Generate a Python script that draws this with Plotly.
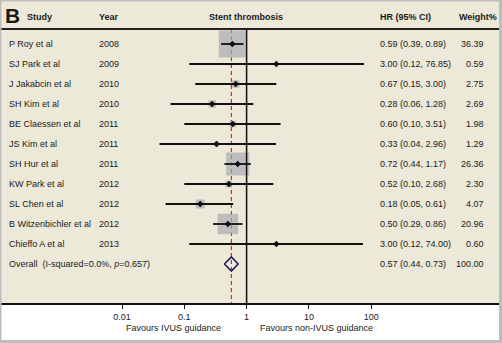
import plotly.graph_objects as go

# ---- data ----
studies = ["P Roy et al", "SJ Park et al", "J Jakabcin et al", "SH Kim et al",
           "BE Claessen et al", "JS Kim et al", "SH Hur et al", "KW Park et al",
           "SL Chen et al", "B Witzenbichler et al", "Chieffo A et al"]
years = [2008, 2009, 2010, 2010, 2011, 2011, 2011, 2012, 2012, 2012, 2013]
hr = [0.59, 3.00, 0.67, 0.28, 0.60, 0.33, 0.72, 0.52, 0.18, 0.50, 3.00]
ci_low = [0.39, 0.12, 0.15, 0.06, 0.10, 0.04, 0.44, 0.10, 0.05, 0.29, 0.12]
ci_high = [0.89, 76.85, 3.00, 1.28, 3.51, 2.96, 1.17, 2.68, 0.61, 0.86, 74.00]
weights = [36.39, 0.59, 2.75, 2.69, 1.98, 1.29, 26.36, 2.30, 4.07, 20.96, 0.60]

overall_label = "Overall  (I-squared=0.0%, <i>p</i>=0.657)"
overall_hr, overall_low, overall_high, overall_weight = 0.57, 0.44, 0.73, 100.00

tick_vals = [0.01, 0.1, 1, 10, 100]
tick_text = ["0.01", "0.1", "1", "10", "100"]

# ---- geometry helpers ----
W, H = 502, 343
MB = 40                      # white strip under the panel holds the axis labels
PH = H - MB                  # panel height in px
ROW0, ROWH = 44, 20          # first row centre and row pitch (px)


def px(x):
    return x / W


def py(y):
    return (PH - y) / PH


def row_of(y):
    return (y - ROW0) / ROWH


n = len(studies)
rows = list(range(n))
overall_row = n
top_rule = row_of(29)
bottom_rule = row_of(PH)

FONT = "Arial, Liberation Sans, Helvetica, sans-serif"
TXT = "#1a1a1a"
BEIGE = "#ece9d8"

fig = go.Figure()

# reference line at the pooled estimate
fig.add_trace(go.Scatter(
    x=[overall_hr, overall_hr], y=[top_rule, bottom_rule], mode="lines",
    line=dict(color="#d42a2a", width=1.2, dash="4px,3px"),
    hoverinfo="skip", showlegend=False))

# weight boxes (side proportional to sqrt of weight)
max_w = max(weights)
fig.add_trace(go.Scatter(
    x=hr, y=rows, mode="markers",
    marker=dict(symbol="square", color="#a9a9b2",
                size=[27 * (w / max_w) ** 0.5 for w in weights],
                line=dict(width=0)),
    hoverinfo="skip", showlegend=False))

# line of no effect
fig.add_trace(go.Scatter(
    x=[1, 1], y=[top_rule, bottom_rule], mode="lines",
    line=dict(color="#111111", width=1.5),
    hoverinfo="skip", showlegend=False))

# confidence intervals and point estimates
fig.add_trace(go.Scatter(
    x=hr, y=rows, mode="markers",
    marker=dict(symbol="diamond", color="#111111", size=5),
    error_x=dict(type="data", symmetric=False,
                 array=[h - e for h, e in zip(ci_high, hr)],
                 arrayminus=[e - l for e, l in zip(hr, ci_low)],
                 color="#111111", thickness=1.8, width=0),
    hoverinfo="skip", showlegend=False))

# pooled diamond
half = 0.35
fig.add_trace(go.Scatter(
    x=[overall_low, overall_hr, overall_high, overall_hr, overall_low],
    y=[overall_row, overall_row - half, overall_row, overall_row + half, overall_row],
    mode="lines", line=dict(color="#1c1c5e", width=1.6),
    hoverinfo="skip", showlegend=False))

ann = []


def text(x, y, s, anchor="left", size=9, yref="y", xref="paper"):
    ann.append(dict(x=x, y=y, xref=xref, yref=yref, text=s, showarrow=False,
                    xanchor=anchor, yanchor="middle",
                    font=dict(family=FONT, size=size, color=TXT)))


# header
text(px(3), py(16), "<b>B</b>", size=21, yref="paper")
text(px(25), py(17), "<b>Study</b>", yref="paper")
text(px(97), py(17), "<b>Year</b>", yref="paper")
text(px(246), py(17), "<b>Stent thrombosis</b>", anchor="center", yref="paper")
text(px(378), py(17), "<b>HR (95% CI)</b>", yref="paper")
text(px(457), py(17), "<b>Weight%</b>", yref="paper")

# study rows
for i in rows:
    text(px(7), i, studies[i])
    text(px(97), i, str(years[i]))
    text(px(378), i, f"{hr[i]:.2f} ({ci_low[i]:.2f}, {ci_high[i]:.2f})")
    text(px(486), i, f"{weights[i]:.2f}", anchor="right")

# pooled row
text(px(7), overall_row, overall_label)
text(px(378), overall_row,
     f"{overall_hr:.2f} ({overall_low:.2f}, {overall_high:.2f})")
text(px(486), overall_row, f"{overall_weight:.2f}", anchor="right")

# axis captions
text(px(173), py(328), "Favours IVUS guidance", anchor="center", yref="paper")
text(px(316), py(328), "Favours non-IVUS guidance", anchor="center", yref="paper")

shapes = [
    # header rule
    dict(type="line", xref="paper", yref="y", x0=0, x1=1,
         y0=top_rule, y1=top_rule, line=dict(color="#222222", width=2)),
]
# outer grey frame
frame = "#bdbdbd"
for x0, y0, x1, y1 in [(0, 0, 1.5, H), (0, 0, W, 1.5),
                       (W - 3, 0, W, H), (0, H - 3, W, H)]:
    shapes.append(dict(type="rect", xref="paper", yref="paper",
                       x0=px(x0), x1=px(x1), y0=py(y1), y1=py(y0),
                       fillcolor=frame, line=dict(width=0), layer="above"))

# log axis scale: 1 at x=246.6 px, 62.3 px per decade
dec = 62.3
x_lo = -246.6 / dec
x_hi = x_lo + W / dec

fig.update_layout(
    width=W, height=H,
    margin=dict(l=0, r=0, t=0, b=MB),
    paper_bgcolor="white", plot_bgcolor=BEIGE,
    annotations=ann, shapes=shapes,
    xaxis=dict(type="log", range=[x_lo, x_hi], tickvals=tick_vals,
               ticktext=tick_text, ticks="outside", ticklen=4, tickwidth=1,
               tickcolor="#111111", showline=True, linecolor="#111111",
               linewidth=1.5, showgrid=False, zeroline=False,
               tickfont=dict(family=FONT, size=9, color=TXT), fixedrange=True),
    yaxis=dict(range=[bottom_rule, row_of(0)], visible=False,
               showgrid=False, zeroline=False, fixedrange=True),
)

fig.write_html("out.html")
